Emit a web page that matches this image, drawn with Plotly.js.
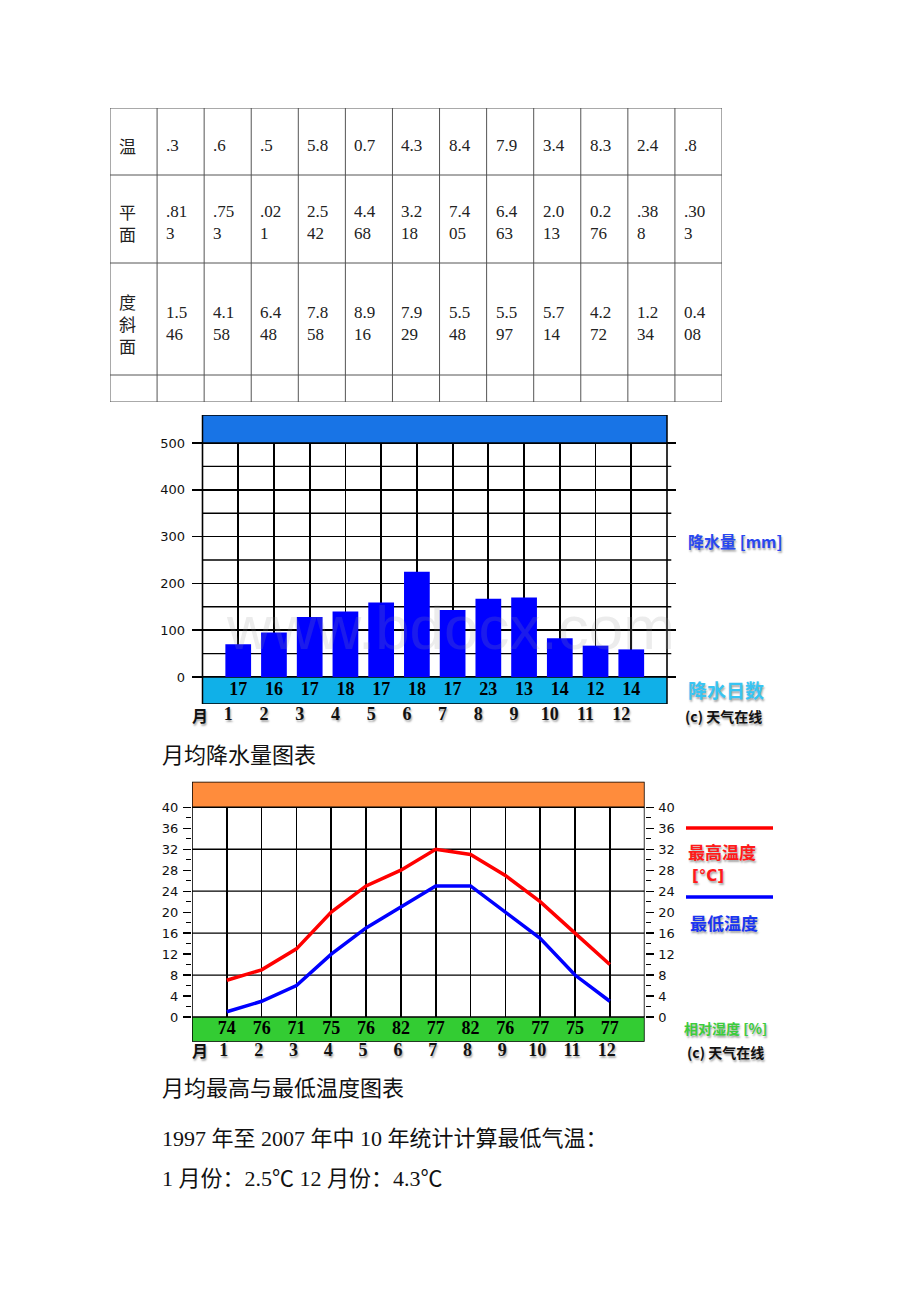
<!DOCTYPE html>
<html><head><meta charset="utf-8">
<script src="https://cdn.plot.ly/plotly-3.0.1.min.js"></script>
<style>html,body{margin:0;padding:0;background:#fff}#chart{width:920px;height:1302px}</style>
</head><body><div id="chart"></div>
<script>
// ---------------- data ----------------
const months = [1,2,3,4,5,6,7,8,9,10,11,12];
const monthLabels = ['1','2','3','4','5','6','7','8','9','10','11','12'];
const precipitation = [70,95,128,140,159,225,143,167,170,83,67,59];      // mm
const rainDays = [17,16,17,18,17,18,17,23,13,14,12,14];
const tempMax = [7,9,13,20,25,28,32,31,27,22,16,10];                    // °C
const tempMin = [1,3,6,12,17,21,25,25,20,15,8,3];                       // °C
const humidity = [74,76,71,75,76,82,77,82,76,77,75,77];                 // %
const precipTicks = [0,100,200,300,400,500];
const precipMinor = [50,150,250,350,450];
const tempTicks = [0,4,8,12,16,20,24,28,32,36,40];
const tempMinorTicks = [2,6,10,14,18,22,26,30,34,38];
const tempGrid = [8,16,24,32];

const tableLabels = ['温','平面','度斜面',''];
const tableRow1 = ['.3','.6','.5','5.8','0.7','4.3','8.4','7.9','3.4','8.3','2.4','.8'];
const tableRow2 = ['.813','.753','.021','2.542','4.468','3.218','7.405','6.463','2.013','0.276','.388','.303'];
const tableRow3 = ['1.546','4.158','6.448','7.858','8.916','7.929','5.548','5.597','5.714','4.272','1.234','0.408'];
const tableRow4 = ['','','','','','','','','','','',''];

const caption1 = '月均降水量图表';
const caption2 = '月均最高与最低温度图表';
const textLine1 = '1997 年至 2007 年中 10 年统计计算最低气温：';
const textLine2 = '1 月份：2.5℃ 12 月份：4.3℃';

// ---------------- helpers / layout constants ----------------
const W = 920, H = 1302;
const fx = p => p / W, fy = p => 1 - p / H;
const serif = "'Liberation Serif','Times New Roman','Noto Sans CJK SC',serif";
const cjk = "'Noto Sans CJK SC','DejaVu Sans',sans-serif";
const tickFam = "'DejaVu Sans',Verdana,sans-serif";
const shadow = '1px 2px 2px rgba(0,0,0,0.35)';

// chart 1 geometry (pixels)
const c1 = {frameL:202.5, frameR:667, zero:677, top500:443, top:415, bottom:704, domL:192, domR:676};
const c1u = (c1.frameR - c1.frameL) / 13;
const c1v = (c1.zero - c1.top500) / 500;
const c1xr = [(c1.domL - c1.frameL) / c1u, (c1.domR - c1.frameL) / c1u];
const c1yr = [-(c1.bottom - c1.zero) / c1v, (c1.zero - c1.top) / c1v];

// chart 2 geometry
const c2 = {frameL:192, frameR:644.6, zero:1017, top40:807.3, top:781.7, bottom:1041.7};
const c2v = (c2.zero - c2.top40) / 40;
const c2yr = [-(c2.bottom - c2.zero) / c2v, 40 + (c2.top40 - c2.top) / c2v];

// table geometry
const tbl = {left:110, right:722, top:108};
const rowHeights = [67, 88, 112, 27];
const rowEdges = [tbl.top];
rowHeights.forEach(h => rowEdges.push(rowEdges[rowEdges.length-1] + h));

// ---------------- traces ----------------
const traces = [
  {type:'bar', x:months, y:precipitation, xaxis:'x', yaxis:'y', width:0.72,
   marker:{color:'#0000ff', line:{width:0}}, hoverinfo:'skip'},
  {type:'scatter', mode:'text', x:months, y:months.map(()=>c1yr[0]/2), text:rainDays.map(String),
   xaxis:'x', yaxis:'y', textposition:'middle center',
   textfont:{family:serif, size:18, color:'#000', weight:'bold'}, hoverinfo:'skip'},
  {type:'scatter', mode:'lines', x:months, y:tempMax, xaxis:'x2', yaxis:'y2',
   line:{color:'#ff0000', width:3.5}, hoverinfo:'skip'},
  {type:'scatter', mode:'lines', x:months, y:tempMin, xaxis:'x2', yaxis:'y2',
   line:{color:'#0000ff', width:3.5}, hoverinfo:'skip'},
  {type:'scatter', mode:'text', x:months, y:months.map(()=>c2yr[0]/2), text:humidity.map(String),
   xaxis:'x2', yaxis:'y2', textposition:'middle center',
   textfont:{family:serif, size:18, color:'#000', weight:'bold'}, hoverinfo:'skip'},
  {type:'scatter', mode:'lines', x:[], y:[], xaxis:'x2', yaxis:'y3', hoverinfo:'skip'},
  {type:'scatter', mode:'lines', x:[], y:[], xaxis:'x3', yaxis:'y4', hoverinfo:'skip'}
];

// ---------------- shapes ----------------
const shapes = [];
// chart 1
precipMinor.forEach(v => shapes.push({type:'line', xref:'x', yref:'y', x0:0, x1:13.12, y0:v, y1:v,
  line:{color:'#000', width:1.4}, layer:'between'}));
shapes.push({type:'rect', xref:'x', yref:'y', x0:0, x1:13, y0:500, y1:c1yr[1], fillcolor:'#1874e6',
  line:{color:'#000', width:1.5}, layer:'between'});
shapes.push({type:'rect', xref:'x', yref:'y', x0:0, x1:13, y0:c1yr[0], y1:0, fillcolor:'#10b0e8',
  line:{color:'#000', width:1.5}, layer:'between'});
[0,13].forEach(xv => shapes.push({type:'line', xref:'x', yref:'y', x0:xv, x1:xv, y0:0, y1:500,
  line:{color:'#000', width:1.6}, layer:'between'}));
// chart 2
tempGrid.forEach(v => shapes.push({type:'line', xref:'x2', yref:'y2', x0:0, x1:13, y0:v, y1:v,
  line:{color:'#000', width:1.3}, layer:'between'}));
shapes.push({type:'rect', xref:'x2', yref:'y2', x0:0, x1:13, y0:40, y1:c2yr[1], fillcolor:'#ff8c3c',
  line:{color:'#000', width:1.5}, layer:'between'});
shapes.push({type:'rect', xref:'x2', yref:'y2', x0:0, x1:13, y0:c2yr[0], y1:0, fillcolor:'#33cc33',
  line:{color:'#000', width:1.5}, layer:'between'});
[0,13].forEach(xv => shapes.push({type:'line', xref:'x2', yref:'y2', x0:xv, x1:xv, y0:0, y1:40,
  line:{color:'#000', width:1.6}, layer:'between'}));
// legend lines chart 2
shapes.push({type:'line', xref:'paper', yref:'paper', x0:fx(686), x1:fx(773), y0:fy(828), y1:fy(828), line:{color:'#ff0000', width:3.5}});
shapes.push({type:'line', xref:'paper', yref:'paper', x0:fx(686), x1:fx(773), y0:fy(897), y1:fy(897), line:{color:'#0000ff', width:3.5}});
// table grid
for (let c = 0; c <= 13; c++) shapes.push({type:'line', xref:'x3', yref:'y4', x0:c, x1:c,
  y0:rowEdges[0], y1:rowEdges[rowEdges.length-1], line:{color:'#555', width:1}});
rowEdges.forEach(r => shapes.push({type:'line', xref:'x3', yref:'y4', x0:0, x1:13, y0:r, y1:r,
  line:{color:'#555', width:1}}));

// ---------------- annotations ----------------
const ann = [];
const label = (text, px, py, font, xanchor) => ann.push({xref:'paper', yref:'paper', x:fx(px), y:fy(py),
  xanchor:xanchor || 'left', yanchor:'middle', text:text, showarrow:false, font:font});
// table text
const wrap = s => s.length > 3 ? s.slice(0,3) + '<br>' + s.slice(3) : s;
const tableRows = [tableRow1, tableRow2, tableRow3, tableRow4];
tableLabels.forEach((lab, r) => {
  const yc = (rowEdges[r] + rowEdges[r+1]) / 2 + 4;
  if (lab) ann.push({xref:'x3', yref:'y4', x:0, y:yc, xanchor:'left', yanchor:'middle', xshift:7,
    text:lab.split('').join('<br>'), showarrow:false, align:'left',
    font:{family:cjk, size:17, color:'#222'}});
  tableRows[r].forEach((v, i) => {
    if (!v) return;
    ann.push({xref:'x3', yref:'y4', x:i+1, y:yc, xanchor:'left', yanchor:'middle', xshift:7,
      text:wrap(v), showarrow:false, align:'left', font:{family:serif, size:17, color:'#222'}});
  });
});
// month axis char
label('月', 190, 715, {family:cjk, size:16, color:'#111', weight:'bold', shadow:shadow});
label('月', 190, 1050, {family:cjk, size:16, color:'#111', weight:'bold', shadow:shadow});
// watermark
ann.push({xref:'x', yref:'y', x:6.93, y:105, xanchor:'center', yanchor:'middle', text:'www.bdocx.com', showarrow:false,
  font:{family:"'Liberation Sans',Arial,sans-serif", size:62, color:'rgba(150,150,150,0.18)'}});
// chart 1 right labels
label('降水量 [mm]', 686, 541, {family:cjk, size:16, color:'#2848f0', weight:'bold', shadow:shadow});
label('降水日数', 686, 689, {family:cjk, size:19, color:'#38c4f2', weight:'bold', shadow:shadow});
label('(c) 天气在线', 683, 716, {family:cjk, size:14, color:'#111', weight:'bold', shadow:shadow});
// chart 2 right labels
label('最高温度', 686, 851, {family:cjk, size:17, color:'#ff1a1a', weight:'bold', shadow:shadow});
label('[°C]', 690, 876, {family:tickFam, size:15, color:'#ff1a1a', weight:'bold', shadow:shadow});
label('最低温度', 688, 922, {family:cjk, size:17, color:'#1a35f0', weight:'bold', shadow:shadow});
label('相对湿度 [%]', 682, 1028, {family:cjk, size:14, color:'#3ccc3c', weight:'bold', shadow:shadow});
label('(c) 天气在线', 685, 1052, {family:cjk, size:14, color:'#111', weight:'bold', shadow:shadow});
// captions and text lines
[[caption1,755],[caption2,1088],[textLine1,1138],[textLine2,1178]].forEach(([t,y]) =>
  label(t, 160, y, {family:serif, size:22, color:'#111'}));

// ---------------- layout ----------------
const monthTickFont = {family:serif, size:18, color:'#111', weight:'bold', shadow:shadow};
const yTickFont = {family:tickFam, size:13, color:'#111'};
const layout = {
  width:W, height:H, margin:{l:0, r:0, t:0, b:0},
  paper_bgcolor:'#fff', plot_bgcolor:'rgba(0,0,0,0)', showlegend:false,
  xaxis:{domain:[fx(c1.domL), fx(c1.domR)], range:c1xr, anchor:'y', tickmode:'array', tickvals:months,
    ticktext:monthLabels, showgrid:true, gridcolor:'#000', gridwidth:1.8, zeroline:false, showline:false,
    ticks:'', ticklabelshift:-10, ticklabelstandoff:-3, tickfont:monthTickFont, fixedrange:true},
  yaxis:{domain:[fy(c1.bottom), fy(c1.top)], range:c1yr, anchor:'x', tickmode:'array', tickvals:precipTicks,
    showgrid:true, gridcolor:'#000', gridwidth:1.6, zeroline:false, showline:false, ticks:'',
    ticklabelstandoff:6, tickfont:yTickFont, fixedrange:true},
  xaxis2:{domain:[fx(c2.frameL), fx(c2.frameR)], range:[0,13], anchor:'y2', tickmode:'array', tickvals:months,
    ticktext:monthLabels, showgrid:true, gridcolor:'#000', gridwidth:1.6, zeroline:false, showline:false,
    ticks:'', ticklabelshift:-3, ticklabelstandoff:-5, tickfont:monthTickFont, fixedrange:true},
  yaxis2:{domain:[fy(c2.bottom), fy(c2.top)], range:c2yr, anchor:'x2', tickmode:'array', tickvals:tempTicks,
    showgrid:false, zeroline:false, showline:false, ticks:'outside', ticklen:8, tickwidth:1.3, tickcolor:'#000',
    minor:{tickmode:'array', tickvals:tempMinorTicks, ticks:'outside', ticklen:5, tickwidth:1.2, tickcolor:'#000', showgrid:false},
    ticklabelstandoff:2, tickfont:yTickFont, fixedrange:true},
  yaxis3:{overlaying:'y2', side:'right', anchor:'x2', range:c2yr, tickmode:'array', tickvals:tempTicks,
    showgrid:false, zeroline:false, showline:false, ticks:'outside', ticklen:8, tickwidth:1.3, tickcolor:'#000',
    minor:{tickmode:'array', tickvals:tempMinorTicks, ticks:'outside', ticklen:5, tickwidth:1.2, tickcolor:'#000', showgrid:false},
    ticklabelstandoff:2, tickfont:yTickFont, fixedrange:true},
  xaxis3:{domain:[fx(tbl.left), fx(tbl.right)], range:[0,13], anchor:'y4', visible:false, fixedrange:true},
  yaxis4:{domain:[fy(rowEdges[rowEdges.length-1]), fy(tbl.top)], range:[rowEdges[rowEdges.length-1], tbl.top],
    anchor:'x3', visible:false, fixedrange:true},
  shapes:shapes, annotations:ann
};
Plotly.newPlot('chart', traces, layout, {staticPlot:true, displayModeBar:false});
</script></body></html>
